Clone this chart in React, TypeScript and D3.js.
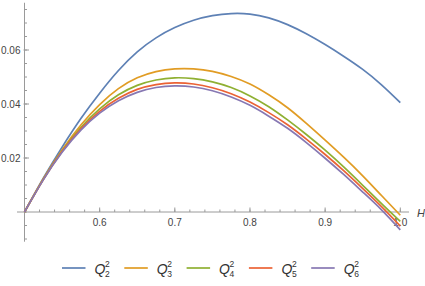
import React, { useEffect, useRef } from "react";
import * as d3 from "d3";

// H values shared by every series
const hValues = [
  0.5, 0.525, 0.55, 0.575, 0.6, 0.625, 0.65, 0.675, 0.7, 0.725, 0.75,
  0.775, 0.8, 0.825, 0.85, 0.875, 0.9, 0.925, 0.95, 0.975, 1.0,
];

const q2 = [
  0, 0.0125, 0.024, 0.0346, 0.044, 0.0524, 0.0593, 0.0645, 0.0683, 0.071,
  0.0727, 0.0735, 0.0733, 0.0719, 0.0694, 0.066, 0.062, 0.0576, 0.0528,
  0.0471, 0.0405,
];
const q3 = [
  0, 0.0122, 0.023, 0.0322, 0.0398, 0.0457, 0.0497, 0.052, 0.053, 0.053,
  0.0521, 0.0502, 0.0474, 0.0434, 0.0386, 0.0328, 0.0266, 0.0202, 0.0134,
  0.0061, -0.0012,
];
const q4 = [
  0, 0.0121, 0.0226, 0.0313, 0.0382, 0.0434, 0.0469, 0.0489, 0.0497, 0.0494,
  0.0482, 0.0461, 0.043, 0.039, 0.0341, 0.0287, 0.0229, 0.0166, 0.0099,
  0.0031, -0.0035,
];
const q5 = [
  0, 0.012, 0.0224, 0.0308, 0.0373, 0.0421, 0.0454, 0.0472, 0.0478, 0.0474,
  0.046, 0.0438, 0.0407, 0.0368, 0.0323, 0.027, 0.0213, 0.0152, 0.0087,
  0.002, -0.0052,
];
const q6 = [
  0, 0.0119, 0.0221, 0.0303, 0.0366, 0.0412, 0.0443, 0.0461, 0.0467, 0.0463,
  0.0449, 0.0426, 0.0395, 0.0355, 0.031, 0.0257, 0.0199, 0.0138, 0.0074,
  0.0008, -0.0066,
];

const seriesNames = ["2", "3", "4", "5", "6"];
const seriesValues = [q2, q3, q4, q5, q6];
const colors = ["#5E81B5", "#E19C24", "#8FB032", "#EB6235", "#8778B3"];

const xTicks = [0.6, 0.7, 0.8, 0.9, 1.0];
const yTicks = [0.02, 0.04, 0.06];

export default function App() {
  const svgRef = useRef<SVGSVGElement>(null);

  useEffect(() => {
    const svg = d3.select(svgRef.current);
    svg.selectAll("*").remove();

    const x = d3.scaleLinear().domain([0.5, 1.0]).range([24.5, 400.3]);
    const y = d3.scaleLinear().domain([0, 0.06]).range([212, 50]);

    const axisColor = "#9a9a9a";
    const labelColor = "#444";
    const font = "'Liberation Sans', Arial, sans-serif";

    // axes
    svg
      .append("line")
      .attr("x1", 17)
      .attr("x2", 409)
      .attr("y1", y(0))
      .attr("y2", y(0))
      .attr("stroke", axisColor);
    svg
      .append("line")
      .attr("x1", x(0.5))
      .attr("x2", x(0.5))
      .attr("y1", y(0.0775))
      .attr("y2", y(-0.011))
      .attr("stroke", axisColor);

    // x ticks, minor every 0.02
    const xMinor = d3.range(0.52, 1.0001, 0.02);
    svg
      .selectAll(".xminor")
      .data(xMinor)
      .enter()
      .append("line")
      .attr("x1", (d) => x(d))
      .attr("x2", (d) => x(d))
      .attr("y1", y(0))
      .attr("y2", y(0) - 2.5)
      .attr("stroke", axisColor);
    svg
      .selectAll(".xmajor")
      .data(xTicks)
      .enter()
      .append("line")
      .attr("x1", (d) => x(d))
      .attr("x2", (d) => x(d))
      .attr("y1", y(0))
      .attr("y2", y(0) - 4.5)
      .attr("stroke", axisColor);
    svg
      .selectAll(".xlabel")
      .data(xTicks)
      .enter()
      .append("text")
      .attr("x", (d) => x(d))
      .attr("y", 226)
      .attr("text-anchor", "middle")
      .attr("font-family", font)
      .attr("font-size", 10)
      .attr("fill", labelColor)
      .text((d) => d.toFixed(1));

    // y ticks, minor every 0.005
    const yMinor = d3.range(-0.01, 0.0751, 0.005);
    svg
      .selectAll(".yminor")
      .data(yMinor)
      .enter()
      .append("line")
      .attr("x1", x(0.5))
      .attr("x2", x(0.5) + 2.5)
      .attr("y1", (d) => y(d))
      .attr("y2", (d) => y(d))
      .attr("stroke", axisColor);
    svg
      .selectAll(".ymajor")
      .data(yTicks)
      .enter()
      .append("line")
      .attr("x1", x(0.5) - 1)
      .attr("x2", x(0.5) + 4.5)
      .attr("y1", (d) => y(d))
      .attr("y2", (d) => y(d))
      .attr("stroke", axisColor);
    svg
      .selectAll(".ylabel")
      .data(yTicks)
      .enter()
      .append("text")
      .attr("x", 20.5)
      .attr("y", (d) => y(d) + 3.6)
      .attr("text-anchor", "end")
      .attr("font-family", font)
      .attr("font-size", 10)
      .attr("fill", labelColor)
      .text((d) => d.toFixed(2));

    svg
      .append("text")
      .attr("x", 417)
      .attr("y", 217)
      .attr("font-family", font)
      .attr("font-style", "italic")
      .attr("font-size", 11)
      .attr("fill", labelColor)
      .text("H");

    // curves
    const line = d3
      .line<number>()
      .x((_, i) => x(hValues[i]))
      .y((d) => y(d))
      .curve(d3.curveNatural);

    seriesValues.forEach((vals, i) => {
      svg
        .append("path")
        .attr("d", line(vals))
        .attr("fill", "none")
        .attr("stroke", colors[i])
        .attr("stroke-width", 1.7);
    });

    // legend
    const legend = svg.append("g");
    seriesNames.forEach((name, i) => {
      const lx = 62 + i * 62.3;
      legend
        .append("line")
        .attr("x1", lx)
        .attr("x2", lx + 23.5)
        .attr("y1", 268)
        .attr("y2", 268)
        .attr("stroke", colors[i])
        .attr("stroke-width", 1.7);
      legend
        .append("text")
        .attr("x", lx + 32.5)
        .attr("y", 273.5)
        .attr("font-family", font)
        .attr("font-style", "italic")
        .attr("font-size", 14)
        .attr("fill", "#333")
        .text("Q");
      legend
        .append("text")
        .attr("x", lx + 43)
        .attr("y", 266.5)
        .attr("font-family", font)
        .attr("font-size", 8.5)
        .attr("fill", "#333")
        .text("2");
      legend
        .append("text")
        .attr("x", lx + 43)
        .attr("y", 277)
        .attr("font-family", font)
        .attr("font-size", 8.5)
        .attr("fill", "#333")
        .text(name);
    });
  }, []);

  return (
    <svg
      ref={svgRef}
      width={425}
      height={286}
      style={{ position: "absolute", left: 0, top: 0, background: "#fff" }}
    ></svg>
  );
}
